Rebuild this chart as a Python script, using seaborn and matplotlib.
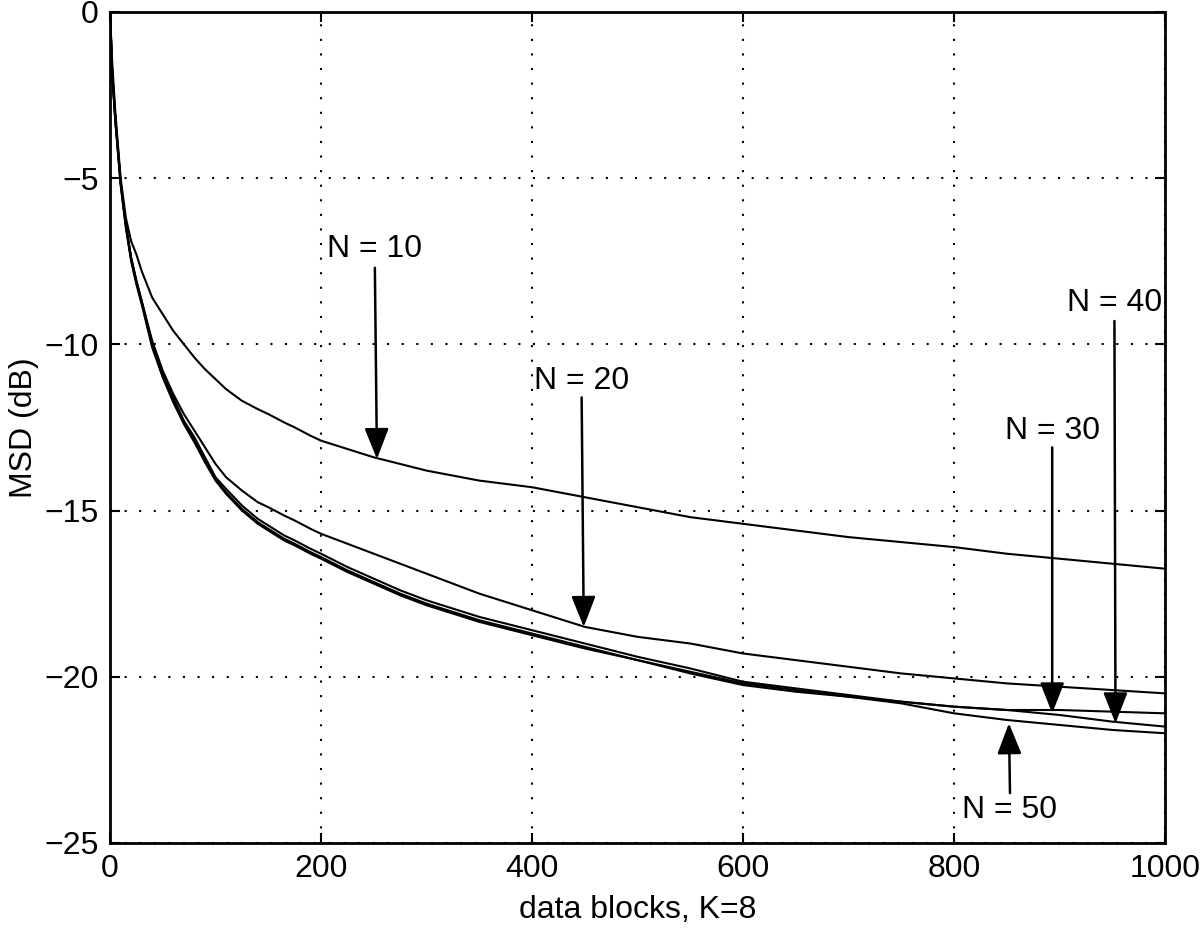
import matplotlib
matplotlib.use('Agg')
import matplotlib.pyplot as plt
import pandas as pd
import seaborn as sns

# Data (MSD in dB vs data blocks)
blocks = [0, 2, 5, 10, 15, 20, 25, 30, 40, 50, 60, 70, 80, 90, 100, 110, 125, 140,
          150, 165, 175, 190, 200, 225, 250, 275, 300, 350, 400, 450, 500, 550,
          600, 650, 700, 750, 800, 850, 900, 950, 1000]

msd_n10 = [0, -1.5, -3.0, -5.0, -6.2, -6.9, -7.3, -7.8, -8.6, -9.1, -9.6, -10.0,
           -10.4, -10.75, -11.05, -11.35, -11.7, -11.95, -12.1, -12.35, -12.5,
           -12.75, -12.9, -13.15, -13.4, -13.6, -13.8, -14.1, -14.3, -14.6, -14.9,
           -15.2, -15.4, -15.6, -15.8, -15.95, -16.1, -16.3, -16.45, -16.6, -16.75]
msd_n20 = [0, -1.8, -3.2, -5.1, -6.4, -7.4, -8.1, -8.7, -9.9, -10.8, -11.5, -12.1,
           -12.6, -13.1, -13.6, -14.0, -14.4, -14.75, -14.9, -15.15, -15.3, -15.55,
           -15.7, -16.0, -16.3, -16.6, -16.9, -17.5, -18.0, -18.5, -18.8, -19.0,
           -19.3, -19.5, -19.7, -19.9, -20.05, -20.2, -20.3, -20.4, -20.5]
msd_n30 = [0, -1.8, -3.2, -5.1, -6.4, -7.4, -8.1, -8.7, -10.0, -10.9, -11.6, -12.3,
           -12.8, -13.4, -14.0, -14.35, -14.85, -15.25, -15.45, -15.75, -15.9,
           -16.15, -16.3, -16.7, -17.05, -17.4, -17.7, -18.2, -18.6, -19.0, -19.4,
           -19.75, -20.15, -20.35, -20.55, -20.75, -20.9, -21.0, -21.0, -21.05,
           -21.1]
msd_n40 = [0, -1.8, -3.25, -5.15, -6.45, -7.45, -8.15, -8.75, -10.05, -10.95, -11.7,
           -12.35, -12.9, -13.5, -14.05, -14.45, -14.95, -15.35, -15.55, -15.85,
           -16.0, -16.25, -16.4, -16.8, -17.15, -17.5, -17.8, -18.3, -18.7, -19.1,
           -19.5, -19.85, -20.2, -20.4, -20.6, -20.75, -20.9, -21.0, -21.15,
           -21.35, -21.5]
msd_n50 = [0, -1.85, -3.3, -5.2, -6.5, -7.5, -8.2, -8.8, -10.1, -11.0, -11.75, -12.4,
           -12.95, -13.55, -14.1, -14.5, -15.0, -15.4, -15.6, -15.9, -16.05, -16.3,
           -16.45, -16.85, -17.2, -17.55, -17.85, -18.35, -18.75, -19.15, -19.5,
           -19.9, -20.25, -20.45, -20.6, -20.8, -21.1, -21.3, -21.45, -21.6, -21.7]

labels = ['N = 10', 'N = 20', 'N = 30', 'N = 40', 'N = 50']
# label position, arrow tail height and arrow tip
label_x = [251, 447, 893, 952, 853]
label_y = [-7.13, -11.1, -12.6, -8.75, -24.0]
tail_y = [-7.7, -11.6, -13.1, -9.3, -23.5]
tip_x = [253, 449, 893, 953, 852]
tip_y = [-13.45, -18.5, -21.1, -21.4, -21.4]

curves = [msd_n10, msd_n20, msd_n30, msd_n40, msd_n50]
df = pd.concat([pd.DataFrame({'block': blocks, 'msd': c, 'N': lab})
                for c, lab in zip(curves, labels)], ignore_index=True)

sns.set_style('ticks')
plt.rcParams['font.family'] = ['Liberation Sans', 'DejaVu Sans']
for key in ['text.color', 'axes.labelcolor', 'xtick.color', 'ytick.color']:
    plt.rcParams[key] = 'black'

fig = plt.figure(figsize=(12, 9.35), dpi=100)
ax = fig.add_axes([0.0917, 0.0984, 0.8792, 0.8890])

sns.lineplot(data=df, x='block', y='msd', hue='N', palette=['black'] * 5,
             legend=False, linewidth=1.5, ax=ax, estimator=None, sort=False)

ax.set_xlim(0, 1000)
ax.set_ylim(-25, 0)
ax.set_xticks([0, 200, 400, 600, 800, 1000])
ax.set_yticks([-25, -20, -15, -10, -5, 0])
ax.grid(True, color='black', linestyle=(0, (1, 6)), linewidth=1.5)
ax.tick_params(direction='in', top=True, right=True, length=7, width=1.5,
               labelsize=23, pad=8)
for s in ax.spines.values():
    s.set_linewidth(2)
    s.set_color('black')

ax.set_xlabel('data blocks, K=8', fontsize=23, labelpad=8)
ax.set_ylabel('MSD (dB)', fontsize=23, labelpad=4)

# labels with arrows pointing to each curve
for lab, lx, ly, ty, hx, hy in zip(labels, label_x, label_y, tail_y, tip_x, tip_y):
    ax.text(lx, ly, lab, ha='center', va='center', fontsize=23)
    ax.annotate('', xy=(hx, hy), xytext=(lx, ty),
                arrowprops=dict(arrowstyle='-|>,head_length=1.9,head_width=0.75',
                                color='black', lw=1.8, shrinkA=0, shrinkB=0))

fig.savefig('out.png', dpi=100)
